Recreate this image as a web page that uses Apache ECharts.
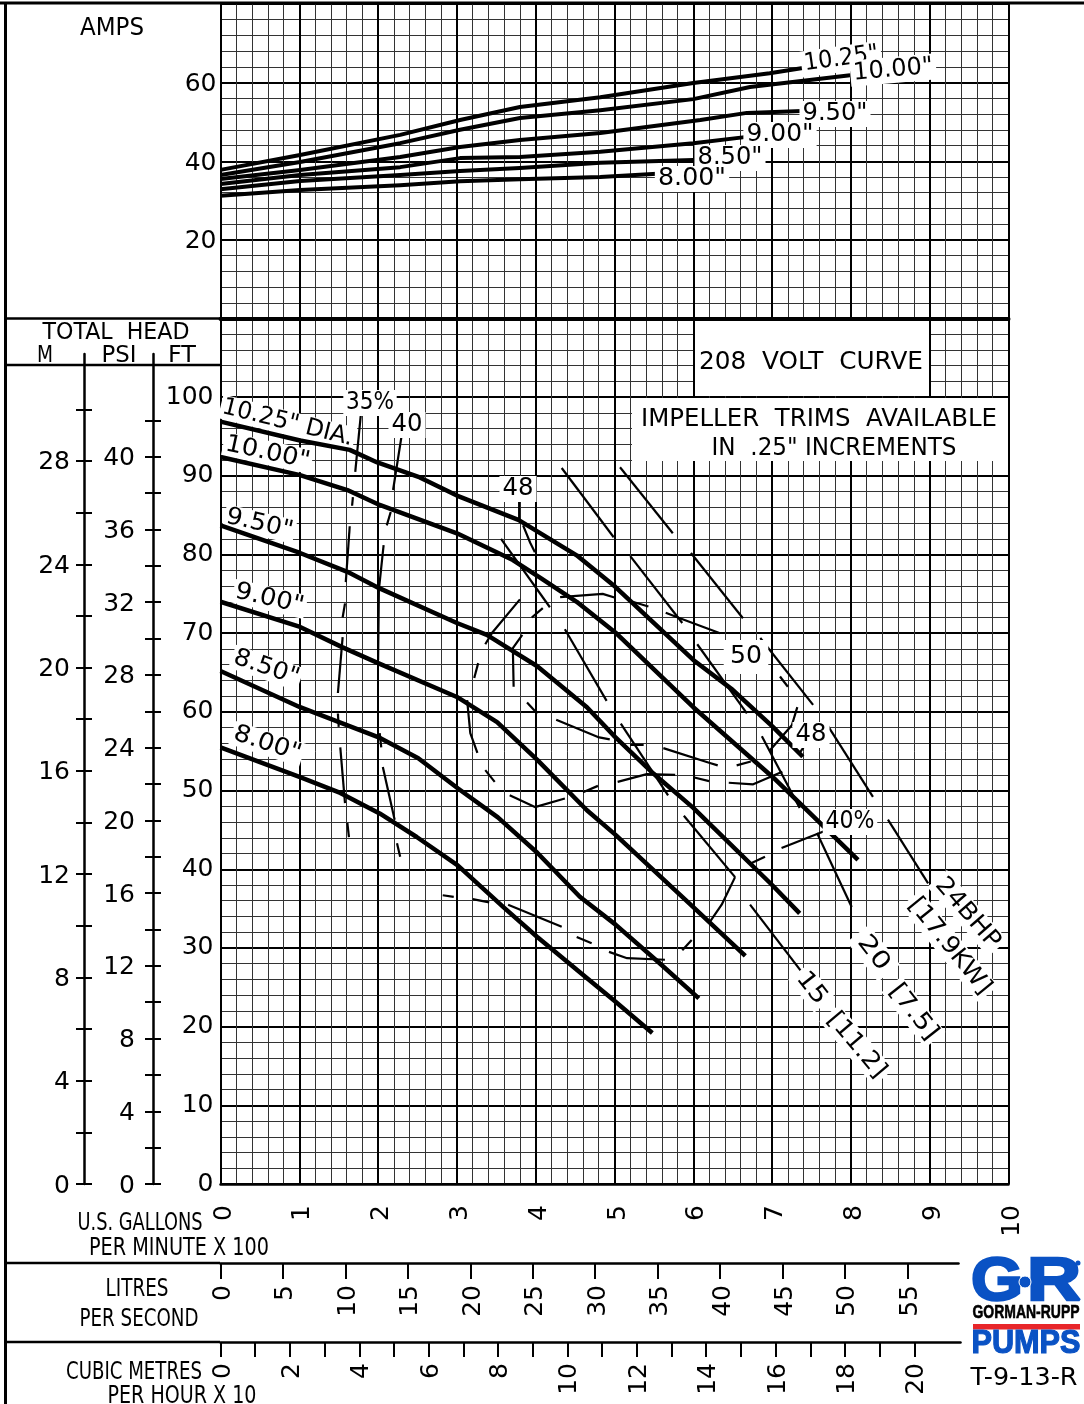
<!DOCTYPE html>
<html><head><meta charset="utf-8">
<style>html,body{margin:0;padding:0;background:#fff}#c{width:1084px;height:1404px}</style>
<script src="https://cdn.jsdelivr.net/npm/echarts@6/dist/echarts.min.js"></script>
</head><body><div id="c"></div>
<script>
// ---- data: x = US gallons per minute / 100, y = feet of head ----
const head1025=[[0,96.9],[1.01,94.5],[1.64,93.3],[1.99,91.7],[2.53,89.8],[3,87.5],[3.78,84.4],[4.52,79.9],[5.01,75.9],[6,66.6],[6.5,62.8],[7.01,58.1],[7.39,54.3]];
const head1000=[[0,92.4],[1.01,90.1],[1.61,88.2],[2.02,86.3],[3,82.7],[3.71,79.3],[4.05,77.1],[4.52,74],[5.01,70.1],[6,60.6],[7.01,51.7],[7.35,48.4],[8.09,41.2]];
const head950=[[0,83.7],[1.01,80.2],[1.61,77.8],[2.02,75.7],[3,71.3],[3.38,69.8],[4.02,65.8],[4.65,60.6],[5.01,56.8],[5.49,52.2],[6,47.8],[7,38],[7.35,34.4]];
const head900=[[0,74],[1.01,70.8],[1.55,68.2],[2,66.2],[3,61.9],[3.51,58.7],[4.02,53.9],[4.65,47.5],[5.01,44.4],[6,35.2],[6.66,29]];
const head850=[[0,65.2],[1.01,60.6],[2,56.8],[2.51,54.1],[3.01,50.3],[3.52,46.6],[4.02,42.1],[4.56,36.5],[5.01,33],[5.58,28],[6.07,23.6]];
const head800=[[0,55.5],[1.01,51.7],[1.52,49.7],[2.02,47.1],[2.49,44.1],[3.01,40.5],[3.59,35.2],[4.02,31.4],[4.56,26.9],[5.01,23.2],[5.48,19.2]];
// x = US gallons per minute / 100, y = amps
const amps1025=[[0,37.8],[1.01,41.6],[2.28,46.7],[3.04,50.5],[3.8,53.8],[4.82,56.3],[6,59.9],[6.97,62.4],[7.39,63.7]];
const amps1000=[[0,36.5],[1.01,39.8],[2.28,44.6],[3.04,48],[3.8,51],[4.82,53],[6,55.8],[6.72,58.9],[7.99,61.9]];
const amps950=[[0,35.5],[1.01,37.8],[2.28,41.1],[3.04,43.6],[3.8,45.4],[4.82,47.2],[6.09,50.5],[6.68,52.3],[7.38,52.8]];
const amps900=[[0,34.2],[1.01,36.5],[2.28,38.5],[3.04,40.8],[3.8,41.1],[4.82,42.4],[6,44.6],[6.68,46.2]];
const amps850=[[0,32.9],[1.01,35],[2.28,36.5],[3.04,37.5],[3.8,38.3],[4.82,39.6],[6,40.3]];
const amps800=[[0,31.2],[1.01,32.7],[2.28,33.9],[3.04,34.9],[3.8,35.4],[4.82,36],[5.54,36.8]];
// broken efficiency contours and brake-horsepower lines, one array per drawn stroke
const eff35=[[[1.78,97.7],[1.71,90.5]],[[1.68,87.3],[1.67,86.2]],[[1.64,83.6],[1.59,76.5]],[[1.58,73.8],[1.55,72]],[[1.55,69.5],[1.49,62.4]],[[1.49,59.8],[1.5,58.1]],[[1.52,55.5],[1.58,48.4]],[[1.61,45.9],[1.63,44.1]]];
const eff40=[[[2.3,95.2],[2.19,88.2]],[[2.16,85.4],[2.11,83.7]],[[2.07,81.2],[2.01,75.5],[2,66.6]],[[2.02,57.3],[2.04,55.5]],[[2.06,53],[2.21,46.3]],[[2.24,43.3],[2.28,41.6]]];
const eff48=[[[3.79,87.2],[3.79,84.4]],[[3.84,83.7],[3.93,81.5],[3.99,80.3]],[[3.95,72],[4.09,73.2]],[[4.31,74.6],[4.85,75],[5.01,74.5]],[[5.23,74],[5.43,73.4]],[[5.65,72.6],[5.83,71.9],[6.34,70]],[[7.1,64.5],[7.2,63.2]],[[7.32,60.6],[7.25,58.3],[6.97,55.1]],[[7.42,55.8],[7.35,54.8]]];
const eff48Left=[[[3.8,74.3],[3.45,70.1],[3.36,68.6]],[[3.83,69.8],[3.71,68.1],[3.72,63.2]],[[3.89,61.2],[4.02,59.8]],[[3.27,66.2],[3.22,64.3]],[[3.13,61.5],[3.17,57.3],[3.26,54.8]],[[3.36,52.6],[3.48,51.1]]];
const eff40Low=[[[3.67,49.4],[3.99,47.9],[4.37,49]],[[4.6,49.8],[4.79,50.6]],[[5.04,51.1],[5.41,52.1],[5.77,52]],[[6,51.7],[6.2,51.2]],[[6.45,51],[6.76,50.8],[7.13,52.4]],[[6.55,53.2],[6.73,53.7]],[[5.62,55.4],[6.21,53.5],[6.31,53.2]],[[4.26,59],[4.79,56.8],[4.94,56.5]],[[5.2,55.8],[5.37,55.8]]];
const eff35Low=[[[7.12,42.7],[7.7,45]],[[6.74,40.8],[6.91,41.6]],[[6.53,39],[6.36,35.5],[6.21,33.3]],[[5.98,31],[5.86,29.7]],[[4.93,29.5],[5.16,28.7],[5.64,28.5]],[[4.52,31.4],[4.71,30.6]],[[2.82,36.7],[2.96,36.5]],[[3.2,36.2],[3.41,35.8]],[[3.65,35.5],[4.33,32.7]]];
const bhpLines=[[[4.33,91],[4.99,82.2]],[[5.07,91.1],[5.74,82.7]],[[5.2,79.8],[5.86,71.3]],[[5.97,80.2],[6.63,71.9]],[[4.37,70.5],[4.9,61.4]],[[6.05,68.6],[6.68,59.8]],[[6.85,69.4],[7.52,60.9]],[[7.71,58.2],[8.28,49.2]],[[8.47,46.3],[8.98,38.2]],[[6.87,56.9],[7.35,47.8]],[[7.57,44.6],[8.01,35.2]],[[5.88,46.8],[6.53,39]],[[6.72,35.5],[7.38,26.9]],[[3.56,82],[4.18,73.3]],[[5.08,58.5],[5.68,49.4]]];
// tick values
const ampsLabels=[20,40,60];
const metreTicks=[0,2,4,6,8,10,12,14,16,18,20,22,24,26,28,30];
const metreLabels=[0,4,8,12,16,20,24,28];
const psiTicks=[0,2,4,6,8,10,12,14,16,18,20,22,24,26,28,30,32,34,36,38,40,42];
const psiLabels=[0,4,8,12,16,20,24,28,32,36,40];
const litreTicks=[0,5,10,15,20,25,30,35,40,45,50,55];
const cubicTicks=[0,1,2,3,4,5,6,7,8,9,10,11,12,13,14,15,16,17,18,19,20];
const cubicLabels=[0,2,4,6,8,10,12,14,16,18,20];

const FT_PER_M=3.281, FT_PER_PSI=2.31;
const F='"DejaVu Sans"';
const chart=echarts.init(document.getElementById('c'),null,{renderer:'canvas'});
const ctx=document.createElement('canvas').getContext('2d');

function txt(text,cx,cy,width,size,rot,opt){
  opt=opt||{};
  const font=(opt.bold?'bold ':'')+size+'px '+(opt.family||F);
  ctx.font=font;
  const w=ctx.measureText(text).width;
  const r=(rot||0)*Math.PI/180;
  const nudge=opt.family?0:2;
  const el={type:'text',x:cx+nudge*Math.sin(r),y:cy+nudge*Math.cos(r),rotation:r,scaleX:width?width/w:1,z:opt.z||100,silent:true,
    style:{text:text,font:font,fill:opt.fill||'#000',align:'center',verticalAlign:'middle'}};
  if(opt.stroke){el.style.stroke=opt.fill||'#000';el.style.lineWidth=opt.stroke;}
  if(opt.mask){el.style.backgroundColor='#fff';el.style.padding=opt.mask===true?[1,3,1,3]:opt.mask;}
  return el;
}
function rule(x1,y1,x2,y2,w){return {type:'line',z:50,silent:true,shape:{x1,y1,x2,y2},style:{stroke:'#000',lineWidth:w||2.5}};}
function box(x,y,w,h,fill,z){return {type:'rect',z:z||1,silent:true,shape:{x,y,width:w,height:h},style:{fill:fill||'#fff'}};}
const under={mask:[0,2,0,2],z:4};

const graphics=[
  box(695,321,234,75), box(632,398,376,63),
  rule(0,3,1084,3,3), rule(5.5,3,5.5,1404,3),
  rule(5,318.5,220,318.5,2.5), rule(5,365,220,365,2.5),
  rule(5,1263,220,1263,2.5), rule(5,1342,220,1342,2.5),
  txt('AMPS',112,27,64,24),
  txt('TOTAL  HEAD',116,331,147,23),
  txt('M',45,354,16,23), txt('PSI',119,354,35,23), txt('FT',182,354,28,23),
  txt('U.S. GALLONS',140,1222,125,24), txt('PER MINUTE X 100',179,1247,180,24),
  txt('LITRES',137,1288,63,24), txt('PER SECOND',139,1318,119,24),
  txt('CUBIC METRES',134,1371,136,24), txt('PER HOUR X 10',182,1395,149,24),
  txt('208  VOLT  CURVE',811,361,224,24),
  txt('IMPELLER  TRIMS  AVAILABLE',819,418,356,24),
  txt('IN  .25" INCREMENTS',834,447,245,24),
  // amps curve labels
  txt('10.25"',841,57,75,24,8,{mask:true,z:90}), txt('10.00"',893,68,80,24,5,{mask:true,z:91}),
  txt('9.50"',835,112,65,24,0,{mask:true}), txt('9.00"',780,133,67,24,0,{mask:true}),
  txt('8.50"',730,156,65,24,0,{mask:true}), txt('8.00"',692,177,68,24,0,{mask:true}),
  // head curve labels
  txt('10.25" DIA.',288,421,134,24,-14,under), txt('10.00"',268,451,86,24,-12,under),
  txt('9.50"',260,522,68,24,-13,under), txt('9.00"',270,597,70,24,-13,under),
  txt('8.50"',267,666,68,24,-19,under), txt('8.00"',268,742,70,24,-18,under),
  // efficiency labels
  txt('35%',370,401,48,24,0,{mask:true}), txt('40',407,423,31,24,0,{mask:true}),
  txt('48',518,487,31,24,0,{mask:true}), txt('50',746,655,32,24,0,{mask:[5,6,5,6]}),
  txt('48',811,733,31,24,0,{mask:true}), txt('40%',850,820,49,24,0,{mask:true}),
  // horsepower labels
  txt('24BHP',969,912,86,24,-49,{mask:true}), txt('[17.9KW]',951,945,117,24,-51,{mask:true}),
  txt('20',875,952,38,24,-52,{mask:[2,5,2,5]}), txt('[7.5]',915,1011,64,24,-52,{mask:true}),
  txt('15',813,987,35,24,-52,{mask:true}), txt('[11.2]',858,1044,78,24,-50,{mask:true}),
  // logo
  txt('G',997,1283,52,62,0,{bold:true,family:'"Liberation Sans"',fill:'#0a52c4',z:60,stroke:2.5}),
  txt('R',1054,1283,54,62,0,{bold:true,family:'"Liberation Sans"',fill:'#0a52c4',z:60,stroke:2.5}),
  {type:'rect',z:61,silent:true,shape:{x:1012,y:1278,width:14,height:3},style:{fill:'#0a52c4'}},
  {type:'circle',z:61,silent:true,shape:{cx:1025,cy:1282,r:6},style:{fill:'#0a52c4',stroke:'#fff',lineWidth:1}},
  {type:'circle',z:61,silent:true,shape:{cx:1078,cy:1263,r:2.5},style:{fill:'#0a52c4'}},
  txt('GORMAN-RUPP',1026,1313,107,19,0,{bold:true,family:'"Liberation Sans"',z:60,stroke:0.6}),
  box(973,1324,107,5.5,'#e8262a',60),
  txt('PUMPS',1026,1344,109,33,0,{bold:true,family:'"Liberation Sans"',fill:'#0a52c4',z:60,stroke:1.2}),
  txt('T-9-13-R',1024,1377,107,24)
];

const grid=[
  {left:220.5,top:4,width:788,height:314.5},
  {left:220.5,top:318.5,width:788,height:865.5},
  {left:220.5,top:354,width:788,height:830},
  {left:220.5,top:1262,width:738,height:1},
  {left:220.5,top:1341,width:740,height:1}
];
const major={show:true,lineStyle:{color:'#000',width:2}};
const minor={show:true,lineStyle:{color:'#333',width:1}};
const hidden={axisLine:{show:false},axisTick:{show:false},axisLabel:{show:false},splitLine:{show:false}};
const blk={color:'#000',width:2.5};
// tick labels: rich text so a small top padding can settle the digits on their tick
const lab=(m,pad,x)=>Object.assign({margin:m,formatter:v=>'{a|'+v+'}',rich:{a:{fontFamily:F,fontSize:25,color:'#000',padding:[pad,0,0,0]}}},x||{});

const xAxis=[
  {type:'value',gridIndex:0,min:0,max:10,interval:1,position:'bottom',axisLine:{show:true,onZero:false,lineStyle:{color:'#000',width:4}},axisTick:{show:false},axisLabel:{show:false},splitLine:major,minorTick:{show:false,splitNumber:5},minorSplitLine:minor},
  {type:'value',gridIndex:1,min:0,max:10,interval:1,position:'bottom',axisLine:{show:true,onZero:false,lineStyle:blk},axisTick:{show:false},axisLabel:lab(21,7,{rotate:90,showMinLabel:true,showMaxLabel:true}),splitLine:major,minorTick:{show:false,splitNumber:5},minorSplitLine:minor},
  Object.assign({type:'value',gridIndex:2,min:0,max:10},hidden),
  {type:'value',gridIndex:3,min:0,max:59.09,position:'bottom',axisLine:{show:true,onZero:false,lineStyle:blk},axisTick:{show:true,length:16,customValues:litreTicks,lineStyle:{color:'#000',width:2}},axisLabel:lab(22,6,{rotate:90,customValues:litreTicks}),splitLine:{show:false}},
  {type:'value',gridIndex:4,min:0,max:21.33,position:'bottom',axisLine:{show:true,onZero:false,lineStyle:blk},axisTick:{show:true,length:15,customValues:cubicTicks,lineStyle:{color:'#000',width:2}},axisLabel:lab(21,5,{rotate:90,customValues:cubicLabels}),splitLine:{show:false}}
];
const maxM=830/7.87/FT_PER_M, maxP=830/7.87/FT_PER_PSI;
const tk={color:'#000',width:2};
const yAxis=[
  {type:'value',gridIndex:0,min:0,max:80,interval:20,axisLine:{show:false},axisTick:{show:false},axisLabel:lab(4,4,{customValues:ampsLabels}),splitLine:major,minorTick:{show:false,splitNumber:5},minorSplitLine:minor},
  {type:'value',gridIndex:1,min:0,max:110,interval:10,axisLine:{show:false},axisTick:{show:false},axisLabel:lab(7,0,{showMaxLabel:false}),splitLine:major,minorTick:{show:false,splitNumber:5},minorSplitLine:minor},
  {type:'value',gridIndex:2,min:0,max:maxM,position:'left',offset:136.5,axisLine:{show:true,onZero:false,lineStyle:{color:'#000',width:2.5}},axisTick:{show:true,length:8,customValues:metreTicks,lineStyle:tk},axisLabel:lab(14,4,{customValues:metreLabels}),splitLine:{show:false}},
  {type:'value',gridIndex:2,min:0,max:maxM,position:'left',offset:136.5,axisLine:{show:false,onZero:false},axisTick:{show:true,inside:true,length:8,customValues:metreTicks,lineStyle:tk},axisLabel:{show:false},splitLine:{show:false}},
  {type:'value',gridIndex:2,min:0,max:maxP,position:'left',offset:67.5,axisLine:{show:true,onZero:false,lineStyle:{color:'#000',width:2.5}},axisTick:{show:true,length:8,customValues:psiTicks,lineStyle:tk},axisLabel:lab(18,4,{customValues:psiLabels}),splitLine:{show:false}},
  {type:'value',gridIndex:2,min:0,max:maxP,position:'left',offset:67.5,axisLine:{show:false,onZero:false},axisTick:{show:true,inside:true,length:8,customValues:psiTicks,lineStyle:tk},axisLabel:{show:false},splitLine:{show:false}},
  Object.assign({type:'value',gridIndex:3,min:0,max:1},hidden),
  Object.assign({type:'value',gridIndex:4,min:0,max:1},hidden)
];

function curve(name,data,g,w){return {name,type:'line',xAxisIndex:g,yAxisIndex:g,data,showSymbol:false,symbol:'none',silent:true,animation:false,lineStyle:{color:'#000',width:w,join:'round'},z:5};}
const series=[];
[['10.25"',head1025],['10.00"',head1000],['9.50"',head950],['9.00"',head900],['8.50"',head850],['8.00"',head800]].forEach(a=>series.push(curve('Head '+a[0],a[1],1,4.5)));
[['10.25"',amps1025],['10.00"',amps1000],['9.50"',amps950],['9.00"',amps900],['8.50"',amps850],['8.00"',amps800]].forEach(a=>series.push(curve('Amps '+a[0],a[1],0,4)));
[['35%',eff35],['40',eff40],['48',eff48],['48 left',eff48Left],['40% low',eff40Low],['35% low',eff35Low],['BHP',bhpLines]].forEach(a=>a[1].forEach((seg,i)=>series.push(curve(a[0]+' '+i,seg,1,2.2))));

chart.setOption({animation:false,backgroundColor:'#fff',tooltip:{show:false},legend:{show:false},grid,xAxis,yAxis,series,graphic:{elements:graphics}});
</script></body></html>
